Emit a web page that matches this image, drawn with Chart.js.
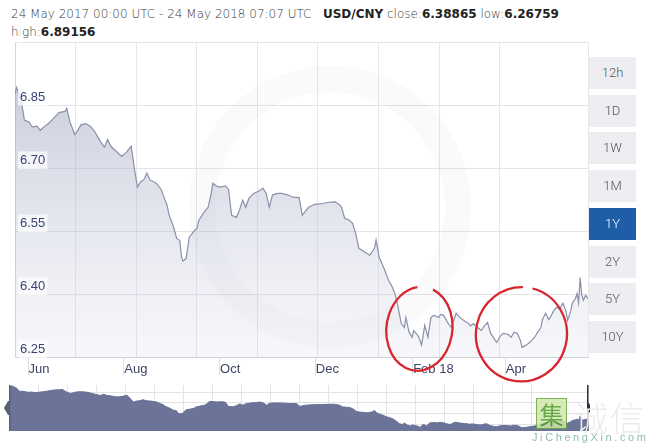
<!DOCTYPE html>
<html>
<head>
<meta charset="utf-8">
<script src="https://cdn.jsdelivr.net/npm/chart.js@4.4.1/dist/chart.umd.min.js"></script>
<style>
  body { margin: 0; background: #fff; width: 650px; height: 445px; overflow: hidden; position: relative; font-family: "DejaVu Sans", sans-serif; }
  #head { position: absolute; left: 11px; top: 5px; font-size: 12px; line-height: 18px; color: #3a3a3a; font-weight: 200; white-space: nowrap; }
  #head b { font-weight: 700; color: #222; }
  #main { position: absolute; left: 0; top: 0; }
  #nav { position: absolute; left: 0; top: 380px; }
  .btn { position: absolute; left: 589px; width: 47px; height: 32px; background: #eeeef2; color: #555; font: 300 13px Roboto, sans-serif; text-align: center; line-height: 32px; }
  .btn.on { background: #1e5ea7; color: #fff; }
  #wm { position: absolute; left: 530px; top: 396px; width: 120px; height: 49px; }
  #wm .ji { position: absolute; left: 6px; top: 2px; width: 29px; height: 29px; background: #cfe8a8; border: 1px solid #6aa83a; color: #4e9a2a; font: 24px "Noto Sans CJK SC"; line-height: 29px; text-align: center; opacity: 0.85; }
  #wm .cx { position: absolute; left: 44px; top: -4px; color: #ececec; font: 200 34px "Noto Sans CJK SC"; letter-spacing: 2px; }
  #wm .url { position: absolute; left: 2px; top: 35px; color: #8fbcb6; font: 11px "Liberation Sans"; letter-spacing: 2.6px; }
</style>
</head>
<body>
<div id="head">24 May 2017 00:00 UTC - 24 May 2018 07:07 UTC&nbsp;&nbsp; <b>USD/CNY</b> close:<b>6.38865</b> low:<b>6.26759</b><br>high:<b>6.89156</b></div>
<canvas id="main" width="590" height="384"></canvas>
<canvas id="nav" width="590" height="55"></canvas>
<div id="btns"></div>
<div id="wm"><div class="ji">集</div><div class="cx">诚信</div><div class="url">JiChengXin.com</div></div>
<script>
// days since 24 May 2017, USD/CNY rate
const days = [0,1,4,6,9,11,14,16,19,21,
  25,28,32,33,35,38,40,42,45,48,
  51,53,55,57,59,61,63,66,68,71,
  74,76,78,80,82,84,86,90,93,95,
  97,98,101,103,105,106,107,109,111,114,
  116,117,120,123,125,126,129,131,134,136,
  138,141,143,145,147,149,152,155,158,160,
  162,164,167,170,174,177,181,183,185,187,
  191,196,200,204,207,208,210,213,215,217,
  219,221,223,226,229,230,232,235,238,240,
  242,244,246,248,249,251,253,254,257,259,
  261,263,265,267,270,271,273,276,278,281,
  284,287,289,290,292,295,297,299,301,303,
  306,307,309,311,314,316,318,320,322,323,
  325,327,329,331,333,335,336,338,340,341,
  343,345,347,349,351,352,354,355,357,358,
  359,360,361,362,363.5,365];
const rates = [6.878,6.892,6.86,6.814,6.81,6.798,6.80,6.79,6.80,6.805,
  6.82,6.832,6.835,6.842,6.81,6.78,6.79,6.803,6.806,6.80,
  6.786,6.772,6.76,6.75,6.768,6.752,6.745,6.735,6.728,6.738,
  6.752,6.70,6.655,6.668,6.672,6.688,6.672,6.664,6.65,6.63,
  6.61,6.59,6.56,6.533,6.528,6.49,6.479,6.485,6.536,6.55,
  6.557,6.575,6.593,6.607,6.64,6.664,6.656,6.655,6.658,6.65,
  6.588,6.583,6.60,6.624,6.607,6.628,6.64,6.645,6.652,6.64,
  6.607,6.636,6.64,6.64,6.636,6.631,6.63,6.588,6.598,6.607,
  6.614,6.616,6.619,6.62,6.612,6.607,6.581,6.576,6.569,6.545,
  6.51,6.505,6.50,6.493,6.51,6.529,6.488,6.462,6.433,6.42,
  6.402,6.37,6.331,6.321,6.345,6.31,6.298,6.314,6.30,6.279,
  6.326,6.298,6.345,6.35,6.345,6.352,6.35,6.33,6.321,6.355,
  6.343,6.335,6.331,6.325,6.33,6.32,6.314,6.325,6.333,6.307,
  6.29,6.286,6.30,6.307,6.305,6.298,6.31,6.307,6.29,6.274,
  6.278,6.283,6.29,6.298,6.31,6.321,6.34,6.355,6.34,6.345,
  6.36,6.369,6.365,6.379,6.36,6.338,6.36,6.379,6.39,6.402,
  6.38,6.44,6.40,6.386,6.398,6.389];

const monthDays = [8, 69, 130, 191, 253, 312];
const monthLabels = ["Jun", "Aug", "Oct", "Dec", "Feb 18", "Apr"];
const yTicks = [6.25, 6.40, 6.55, 6.70, 6.85, 7.00];
const ranges = ["12h", "1D", "1W", "1M", "1Y", "2Y", "5Y", "10Y"];

const points = days.map((d, i) => ({ x: d, y: rates[i] }));

// range buttons
const btns = document.getElementById("btns");
ranges.forEach((r, i) => {
  const b = document.createElement("div");
  b.className = "btn" + (r === "1Y" ? " on" : "");
  b.style.top = (57 + i * 37.7) + "px";
  b.textContent = r;
  btns.appendChild(b);
});

// faint logo ring behind the data, month tick lines, hand-drawn red circles on top
const decor = {
  id: "decor",
  beforeDatasetsDraw(chart) {
    const ctx = chart.ctx;
    ctx.save();
    ctx.strokeStyle = "rgba(40,50,90,0.025)";
    ctx.lineWidth = 26;
    ctx.beginPath();
    ctx.arc(330, 207, 128, 0, Math.PI * 2);
    ctx.stroke();
    ctx.restore();
  },
  afterDraw(chart) {
    const ctx = chart.ctx;
    const x = chart.scales.x, y = chart.scales.y;
    const b = chart.chartArea.bottom;
    ctx.save();
    ctx.strokeStyle = "#dcdce2";
    ctx.lineWidth = 1;
    x.ticks.forEach(t => {
      const px = Math.round(x.getPixelForValue(t.value)) + 0.5;
      ctx.beginPath();
      ctx.moveTo(px, b);
      ctx.lineTo(px, b + 18);
      ctx.stroke();
    });
    const rings = [
      { d: 257.6, v: 6.318, rd: 21, rv: 0.10, a0: -1.3, a1: 4.5 },
      { d: 322.6, v: 6.305, rd: 29, rv: 0.112, a0: -1.45, a1: 4.62 }
    ];
    ctx.strokeStyle = "#d8262e";
    ctx.lineWidth = 2.3;
    rings.forEach(r => {
      const cx = x.getPixelForValue(r.d), cy = y.getPixelForValue(r.v);
      const rx = x.getPixelForValue(r.d + r.rd) - cx;
      const ry = cy - y.getPixelForValue(r.v + r.rv);
      ctx.beginPath();
      ctx.ellipse(cx, cy, rx, ry, 0.12, r.a0, r.a1);
      ctx.stroke();
    });
    ctx.restore();
  }
};

new Chart(document.getElementById("main"), {
  type: "line",
  data: {
    datasets: [{
      data: points,
      borderColor: "#8a90a9",
      borderWidth: 1.2,
      pointRadius: 0,
      tension: 0,
      fill: "start",
      backgroundColor: (c) => {
        const a = c.chart.chartArea;
        if (!a) return "rgba(150,156,185,0.4)";
        const g = c.chart.ctx.createLinearGradient(0, a.top, 0, a.bottom);
        g.addColorStop(0, "rgba(140,146,180,0.55)");
        g.addColorStop(1, "rgba(200,204,222,0.15)");
        return g;
      }
    }]
  },
  options: {
    responsive: false,
    animation: false,
    layout: { padding: { left: 5, right: 2, top: 42, bottom: 3 } },
    plugins: { legend: { display: false }, tooltip: { enabled: false } },
    scales: {
      x: {
        type: "linear", min: 0, max: 365,
        afterBuildTicks: (s) => { s.ticks = monthDays.map(v => ({ value: v })); },
        grid: { drawOnChartArea: false, drawTicks: false },
        border: { color: "#cfd0d6" },
        ticks: {
          autoSkip: false, maxRotation: 0, align: "start", labelOffset: 1, padding: 4,
          color: "#3d4567", font: { family: "Liberation Sans", size: 13 },
          callback: (v, i) => monthLabels[i]
        }
      },
      x2: {
        type: "linear", position: "top", min: 0, max: 365,
        ticks: { display: false, stepSize: 38.6 },
        grid: { color: "#e7e7ea", drawTicks: false },
        border: { display: false }
      },
      y: {
        min: 6.25, max: 7.0,
        afterBuildTicks: (s) => { s.ticks = yTicks.map(v => ({ value: v })); },
        grid: { color: "#e4e4e8", drawTicks: false },
        border: { color: "#d4d5da" },
        ticks: {
          mirror: true, padding: 5, labelOffset: -8, z: 1,
          showLabelBackdrop: true, backdropColor: "rgba(255,255,255,0.7)", backdropPadding: { x: 2, y: 1 },
          color: "#3a4274", font: { family: "Liberation Sans", size: 13 },
          callback: (v) => v >= 7 ? "" : v.toFixed(2)
        }
      }
    }
  },
  plugins: [decor]
});

// navigator handles
const handles = {
  id: "handles",
  afterDraw(chart) {
    const ctx = chart.ctx, a = chart.chartArea;
    const mid = (a.top + a.bottom) / 2;
    ctx.save();
    ctx.fillStyle = "#5b6072";
    ctx.beginPath();
    ctx.moveTo(a.left, mid - 7);
    ctx.lineTo(a.left - 2, mid - 7);
    ctx.lineTo(a.left - 6, mid);
    ctx.lineTo(a.left - 2, mid + 7);
    ctx.lineTo(a.left, mid + 7);
    ctx.fill();
    ctx.fillRect(a.left - 1, a.top, 1.5, a.bottom - a.top);
    ctx.fillStyle = "#2e3240";
    ctx.fillRect(a.right - 1, a.top, 1.5, a.bottom - a.top);
    ctx.beginPath();
    ctx.moveTo(a.right, mid - 6);
    ctx.lineTo(a.right + 3, mid - 2);
    ctx.lineTo(a.right + 3, mid + 3);
    ctx.lineTo(a.right, mid + 6);
    ctx.fill();
    ctx.restore();
  }
};

new Chart(document.getElementById("nav"), {
  type: "line",
  data: {
    datasets: [{
      data: points,
      borderColor: "#666e95",
      borderWidth: 1,
      pointRadius: 0,
      tension: 0,
      fill: "start",
      backgroundColor: "#6b7399"
    }]
  },
  options: {
    responsive: false,
    animation: false,
    layout: { padding: { left: 10, right: 2, top: 5, bottom: 4 } },
    plugins: { legend: { display: false }, tooltip: { enabled: false } },
    scales: {
      x: {
        type: "linear", min: 0, max: 365,
        ticks: { display: false, stepSize: 18.3 },
        grid: { color: "#e2e2e6", drawTicks: false },
        border: { display: false }
      },
      y: {
        min: 6.225, max: 6.905,
        afterBuildTicks: (s) => { s.ticks = [6.32, 6.48, 6.64, 6.80].map(v => ({ value: v })); },
        ticks: { display: false },
        grid: { color: "#e2e2e6", drawTicks: false },
        border: { display: false }
      }
    }
  },
  plugins: [handles]
});
</script>
</body>
</html>
